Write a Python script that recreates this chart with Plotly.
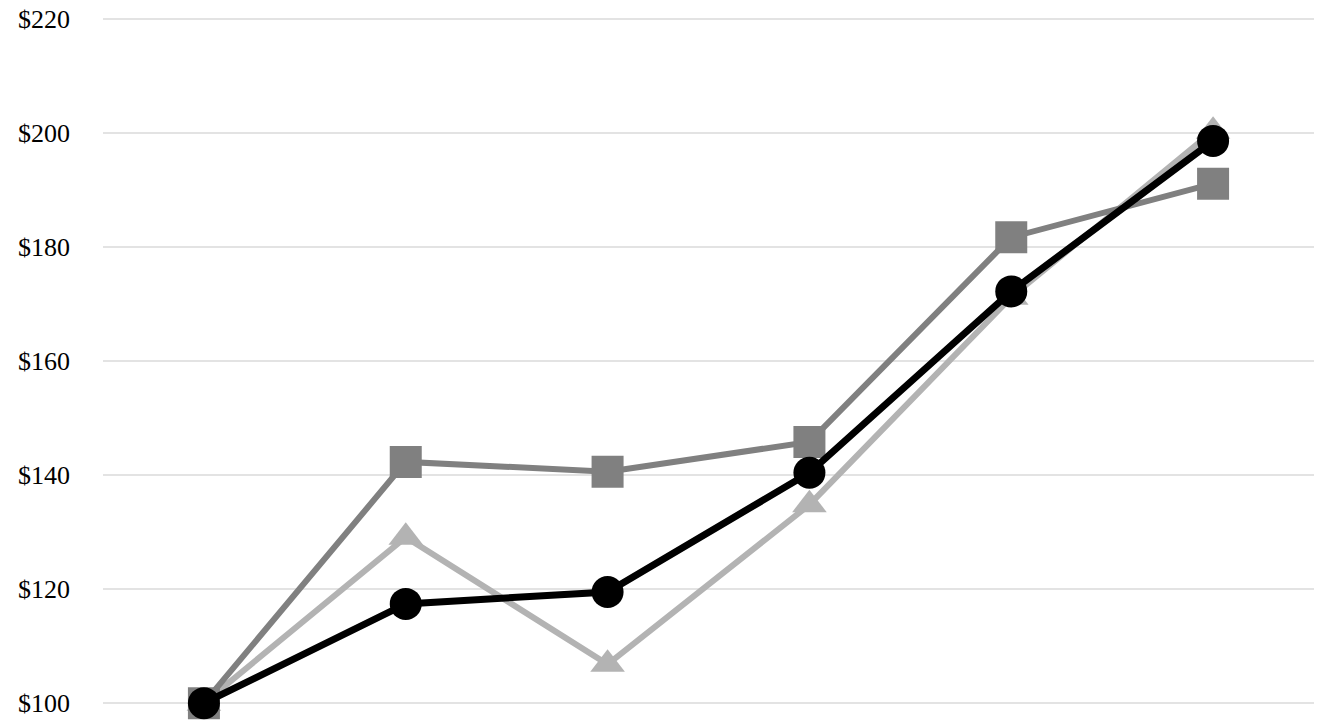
import plotly.graph_objects as go

categories = ["2019", "2020", "2021", "2022", "2023", "2024"]
series_circle = [100, 117.4, 119.5, 140.4, 172.2, 198.6]
series_square = [100, 142.3, 140.6, 145.8, 181.7, 191.1]
series_triangle = [100, 129.1, 106.8, 134.8, 171.2, 200.3]
tick_vals = [100, 120, 140, 160, 180, 200, 220]
tick_text = ["$100", "$120", "$140", "$160", "$180", "$200", "$220"]

fig = go.Figure()
fig.add_trace(go.Scatter(
    x=categories, y=series_triangle, mode="lines+markers", name="Triangle",
    line=dict(color="#b3b3b3", width=6),
    marker=dict(symbol="triangle-up", size=30, color="#b3b3b3", line=dict(width=0)),
    cliponaxis=False))
fig.add_trace(go.Scatter(
    x=categories, y=series_square, mode="lines+markers", name="Square",
    line=dict(color="#808080", width=6),
    marker=dict(symbol="square", size=32, color="#808080", line=dict(width=0)),
    cliponaxis=False))
fig.add_trace(go.Scatter(
    x=categories, y=series_circle, mode="lines+markers", name="Circle",
    line=dict(color="#000000", width=7),
    marker=dict(symbol="circle", size=32, color="#000000", line=dict(width=0)),
    cliponaxis=False))

fig.update_layout(
    template="none",
    autosize=False,
    width=1334, height=722,
    margin=dict(l=103, r=20, t=16, b=16, pad=0, autoexpand=False),
    paper_bgcolor="white", plot_bgcolor="white",
    showlegend=False,
    hovermode=False,
    dragmode=False,
    font=dict(family="Liberation Serif, Times New Roman, serif", size=26, color="#000000"),
    xaxis=dict(type="category", range=[-0.5, 5.5], visible=False),
    yaxis=dict(range=[99.5, 220.5], tickvals=tick_vals, ticktext=tick_text, ticks="",
               showgrid=True, gridcolor="#e3e3e3", gridwidth=2,
               zeroline=False, showline=False, mirror=False, ticklabelstandoff=32,
               automargin=False),
)
fig.write_html("out.html", config={"displayModeBar": False, "staticPlot": True},
               post_script="document.documentElement.style.overflow='hidden';document.body.style.margin='0';document.body.style.overflow='hidden';")
